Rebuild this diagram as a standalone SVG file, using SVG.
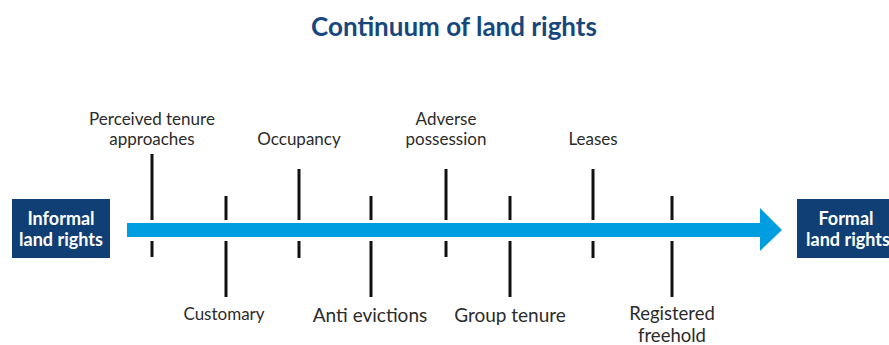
<svg xmlns="http://www.w3.org/2000/svg" width="889" height="345" viewBox="0 0 889 345">
  <style>
    .title { font-family: Lato, "Liberation Sans", sans-serif; font-weight: bold; font-size: 26px; fill: #17477c; text-anchor: middle; }
    .lbl { font-family: Lato, "Liberation Sans", sans-serif; font-size: 17px; fill: #2b2b2b; text-anchor: middle; }
    .big { font-size: 19px; }
    .reg { font-size: 18.5px; }
    .box { fill: #0f3f74; }
    .boxtxt { font-family: Lato, "Liberation Sans", sans-serif; font-weight: bold; font-size: 18px; fill: #ffffff; text-anchor: middle; }
    .tick { stroke: #111111; stroke-width: 3; fill: none; }
  </style>
  <rect width="889" height="345" fill="#ffffff"/>
  <text class="title" x="454" y="36">Continuum of land rights</text>

  <g id="connectors">
    <rect x="127" y="223" width="636" height="14" fill="#009ee0"/>
    <polygon points="760,208 782,230 760,251" fill="#009ee0"/>
    <g class="tick">
      <line x1="152" y1="154" x2="152" y2="220"/><line x1="152" y1="241" x2="152" y2="257"/>
      <line x1="226" y1="196" x2="226" y2="220"/><line x1="226" y1="241" x2="226" y2="297"/>
      <line x1="299" y1="169" x2="299" y2="220"/><line x1="299" y1="241" x2="299" y2="258"/>
      <line x1="371" y1="196" x2="371" y2="220"/><line x1="371" y1="241" x2="371" y2="297"/>
      <line x1="446" y1="169" x2="446" y2="220"/><line x1="446" y1="241" x2="446" y2="257"/>
      <line x1="510" y1="196" x2="510" y2="220"/><line x1="510" y1="241" x2="510" y2="297"/>
      <line x1="593" y1="169" x2="593" y2="220"/><line x1="593" y1="241" x2="593" y2="258"/>
      <line x1="672" y1="196" x2="672" y2="220"/><line x1="672" y1="241" x2="672" y2="297"/>
    </g>
  </g>

  <g id="informal">
    <rect class="box" x="12" y="199" width="98" height="59"/>
    <text class="boxtxt" x="61" y="225">Informal</text>
    <text class="boxtxt" x="61" y="246">land rights</text>
  </g>
  <g id="formal">
    <rect class="box" x="797" y="199" width="98" height="59"/>
    <text class="boxtxt" x="846" y="225">Formal</text>
    <text class="boxtxt" x="848" y="246">land rights</text>
  </g>

  <g id="perceived"><text class="lbl" x="152" y="125">Perceived tenure</text><text class="lbl" x="152" y="145">approaches</text></g>
  <g id="occupancy"><text class="lbl" x="299" y="145">Occupancy</text></g>
  <g id="adverse"><text class="lbl" x="446" y="125">Adverse</text><text class="lbl" x="446" y="145">possession</text></g>
  <g id="leases"><text class="lbl" x="593" y="145">Leases</text></g>
  <g id="customary"><text class="lbl" x="224" y="320">Customary</text></g>
  <g id="anti"><text class="lbl big" x="370" y="322">Anti evictions</text></g>
  <g id="group"><text class="lbl big" x="510" y="322">Group tenure</text></g>
  <g id="registered"><text class="lbl reg" x="672" y="320">Registered</text><text class="lbl reg" x="672" y="342">freehold</text></g>
</svg>
